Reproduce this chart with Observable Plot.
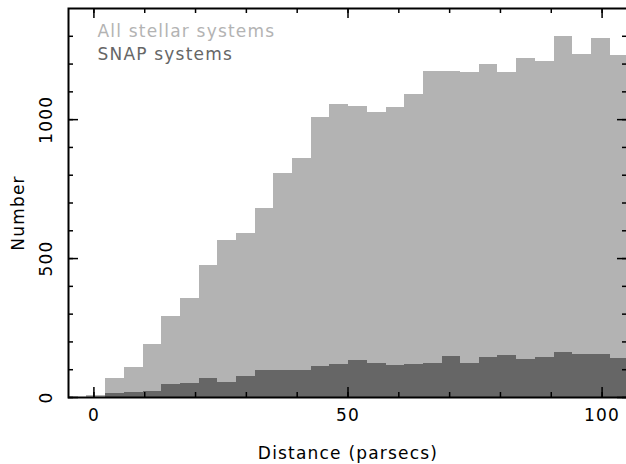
<!DOCTYPE html>
<html><head><meta charset="utf-8">
<script src="https://cdn.jsdelivr.net/npm/d3@7"></script>
<script src="https://cdn.jsdelivr.net/npm/@observablehq/plot@0.6"></script>
<style>
body{margin:0;background:#fff;}
#chart svg text{letter-spacing:1.2px;}
</style></head><body><div id="chart"></div>
<script>
const binEdges = [-1.4, 2.3, 6.0, 9.7, 13.3, 17.0, 20.7, 24.4, 28.0, 31.7, 35.4, 39.1, 42.8, 46.4, 50.1, 53.8, 57.5, 61.1, 64.8, 68.5, 72.2, 75.9, 79.5, 83.2, 86.9, 90.6, 94.2, 97.9, 101.6, 105.3];
const allSystems = [8, 68, 108, 192, 292, 357, 475, 565, 590, 680, 806, 860, 1007, 1056, 1047, 1025, 1043, 1090, 1173, 1172, 1169, 1198, 1169, 1219, 1209, 1299, 1234, 1291, 1230];
const snapSystems = [0, 14, 19, 23, 47, 52, 68, 54, 76, 97, 97, 97, 112, 119, 133, 122, 115, 119, 122, 147, 122, 144, 151, 137, 144, 162, 155, 155, 140];
const xMajorTicks = [0, 50, 100];
const xMinorTicks = [0, 10, 20, 30, 40, 50, 60, 70, 80, 90, 100];
const yMajorTicks = [0, 500, 1000];
const yMinorTicks = [0, 100, 200, 300, 400, 500, 600, 700, 800, 900, 1000, 1100, 1200, 1300];
const legendLabels = ["All stellar systems", "SNAP systems"];
const xLabel = "Distance (parsecs)";
const yLabel = "Number";

const bins = allSystems.map((v, i) => ({x1: binEdges[i], x2: binEdges[i + 1], all: v, snap: snapSystems[i]}));

const W = 626, H = 464, mL = 68, mR = -1, mT = 8, mB = 67;
const pw = W - mL - mR, ph = H - mT - mB;
const LIGHT = "#b3b3b3", DARK = "#666666";

const chart = Plot.plot({
  width: W, height: H,
  marginLeft: mL, marginRight: mR, marginTop: mT, marginBottom: mB,
  style: {fontFamily: "DejaVu Sans", fontSize: "17px", background: "#fff", color: "#000"},
  x: {domain: [-5, 105], axis: null},
  y: {domain: [0, 1400], axis: null},
  marks: [
    Plot.rectY(bins, {x1: "x1", x2: "x2", y: "all", fill: LIGHT, clip: true, shapeRendering: "crispEdges"}),
    Plot.rectY(bins, {x1: "x1", x2: "x2", y: "snap", fill: DARK, clip: true, shapeRendering: "crispEdges"}),
    Plot.tickX(xMinorTicks, {x: d => d, insetTop: ph - 5, strokeWidth: 1.5}),
    Plot.tickX(xMajorTicks, {x: d => d, insetTop: ph - 10, strokeWidth: 1.5}),
    Plot.tickX(xMinorTicks, {x: d => d, insetBottom: ph - 5, strokeWidth: 1.5}),
    Plot.tickX(xMajorTicks, {x: d => d, insetBottom: ph - 10, strokeWidth: 1.5}),
    Plot.tickY(yMinorTicks, {y: d => d, insetRight: pw - 5, strokeWidth: 1.5}),
    Plot.tickY(yMajorTicks, {y: d => d, insetRight: pw - 10, strokeWidth: 1.5}),
    Plot.tickY(yMinorTicks, {y: d => d, insetLeft: pw - 5, strokeWidth: 1.5}),
    Plot.tickY(yMajorTicks, {y: d => d, insetLeft: pw - 10, strokeWidth: 1.5}),
    Plot.frame({stroke: "#000", strokeWidth: 2}),
    Plot.text(xMajorTicks, {x: d => d, text: d => String(d), frameAnchor: "bottom", dy: 23, lineAnchor: "bottom", fill: "#000"}),
    Plot.text(yMajorTicks, {y: d => d, text: d => String(d), frameAnchor: "left", dx: -22, rotate: -90, textAnchor: "middle", lineAnchor: "middle", fill: "#000"}),
    Plot.text([yLabel], {text: d => d, frameAnchor: "left", dx: -50, dy: 10, rotate: -90, textAnchor: "middle", lineAnchor: "middle", fill: "#000"}),
    Plot.text([xLabel], {text: d => d, frameAnchor: "bottom", dy: 61, lineAnchor: "bottom", fill: "#000"}),
    Plot.text([legendLabels[0]], {text: d => d, frameAnchor: "top-left", dx: 29, dy: 28, textAnchor: "start", lineAnchor: "bottom", fill: LIGHT}),
    Plot.text([legendLabels[1]], {text: d => d, frameAnchor: "top-left", dx: 29, dy: 51, textAnchor: "start", lineAnchor: "bottom", fill: DARK})
  ]
});
document.getElementById("chart").appendChild(chart);
</script>
</body></html>
